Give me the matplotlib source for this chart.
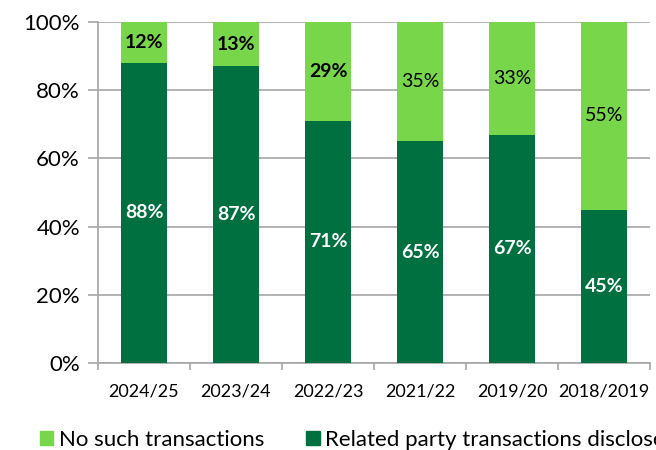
import matplotlib.pyplot as plt
import matplotlib.patches as mpatches
import numpy as np

plt.rcParams['font.family'] = ['Lato', 'DejaVu Sans']

years = ['2024/25', '2023/24', '2022/23', '2021/22', '2019/20', '2018/2019']
disclosed = [88, 87, 71, 65, 67, 45]
no_such = [12, 13, 29, 35, 33, 55]
# which "no such" labels are drawn in bold
no_such_bold = [True, True, True, False, False, False]

light = '#78D64B'
dark = '#007041'
grid_col = '#A6A6A6'

fig = plt.figure(figsize=(6.56, 4.5), dpi=100)
ax = fig.add_axes([98/656, 87/450, 552/656, 341/450])

x = np.arange(len(years))
w = 0.5
ax.bar(x, disclosed, width=w, color=dark, zorder=3)
ax.bar(x, no_such, width=w, bottom=disclosed, color=light, zorder=3)

for xi, d, n, b in zip(x, disclosed, no_such, no_such_bold):
    ax.text(xi, d / 2, f'{d}%', ha='center', va='center', color='white',
            fontsize=14, fontweight='bold', zorder=4)
    ax.text(xi, d + n / 2, f'{n}%', ha='center', va='center', color='black',
            fontsize=14, fontweight='bold' if b else 'normal', zorder=4)

ax.set_ylim(0, 100)
ax.set_xlim(-0.5, len(years) - 0.5)
ax.set_yticks(np.arange(0, 101, 20))
ax.set_yticklabels([f'{v}%' for v in range(0, 101, 20)], fontsize=16)
ax.yaxis.grid(True, color=grid_col, linewidth=1.2, zorder=0)

ax.set_xticks(x)
ax.set_xticklabels(years, fontsize=13)
ax.set_xticks(np.arange(-0.5, len(years)), minor=True)
ax.tick_params(axis='x', which='major', length=0, pad=15)
ax.tick_params(axis='x', which='minor', length=5, color=grid_col, width=1.2)
ax.tick_params(axis='y', length=7, color=grid_col, width=1.2, pad=6)

for s in ['top', 'right']:
    ax.spines[s].set_visible(False)
for s in ['left', 'bottom']:
    ax.spines[s].set_color(grid_col)
    ax.spines[s].set_linewidth(1.2)

handles = [mpatches.Patch(color=light, label='No such transactions'),
           mpatches.Patch(color=dark, label='Related party transactions disclosed')]
fig.legend(handles=handles, loc='center left', bbox_to_anchor=(40/656, 1 - 440/450),
           ncol=2, frameon=False, fontsize=16, handlelength=0.6, handleheight=0.6,
           handletextpad=0.25, columnspacing=1.9, borderaxespad=0, borderpad=0)

fig.savefig('out.png', dpi=100)
